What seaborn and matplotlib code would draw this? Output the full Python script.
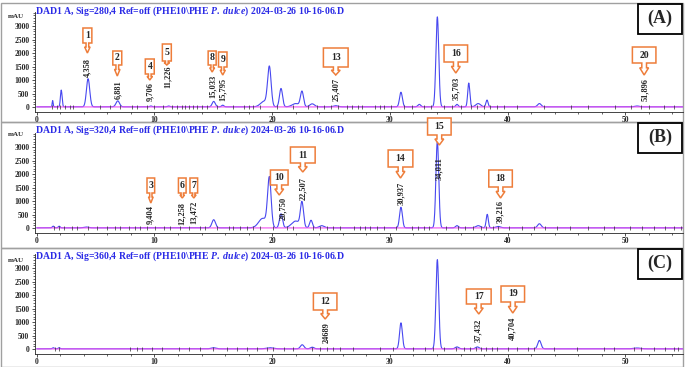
import numpy as np
import pandas as pd
import seaborn as sns
import matplotlib.pyplot as plt
from matplotlib.patches import Polygon, Rectangle
from matplotlib.transforms import blended_transform_factory

# ---- data ----
# peaks: retention time (min), height (mAU), width (sigma, min)
A_times = [1.35, 2.08, 4.36, 6.88, 9.7, 11.2, 15.03, 15.8, 19.3, 19.76, 20.75, 22.0, 22.53, 23.4, 25.4,
           30.94, 32.5, 34.03, 35.7, 36.7, 37.5, 38.25, 42.7, 51.0]
A_heights = [230, 620, 1040, 220, 30, 30, 200, 60, 200, 1450, 680, 120, 560, 110, 40,
             540, 90, 3330, 90, 880, 120, 250, 120, 30]
A_widths = [0.04, 0.07, 0.14, 0.15, 0.1, 0.1, 0.13, 0.1, 0.3, 0.15, 0.13, 0.3, 0.13, 0.2, 0.2,
            0.12, 0.12, 0.12, 0.1, 0.09, 0.2, 0.09, 0.15, 0.2]

B_times = [1.4, 1.9, 4.2, 15.03, 19.2, 19.76, 20.75, 22.0, 22.53, 23.3, 24.2, 30.94, 34.03, 35.7,
           37.5, 38.27, 39.2, 42.7]
B_heights = [60, 60, 30, 300, 350, 1800, 520, 250, 900, 280, 80, 760, 3200, 80,
             80, 500, 50, 150]
B_widths = [0.08, 0.08, 0.2, 0.15, 0.35, 0.15, 0.13, 0.35, 0.13, 0.12, 0.2, 0.12, 0.12, 0.12,
            0.2, 0.09, 0.2, 0.15]

C_times = [1.4, 1.9, 15.0, 19.8, 22.55, 23.4, 30.94, 34.03, 35.7, 37.43, 42.7, 51.0]
C_heights = [40, 40, 40, 40, 150, 60, 960, 3300, 70, 70, 310, 30]
C_widths = [0.08, 0.08, 0.2, 0.3, 0.15, 0.15, 0.12, 0.12, 0.15, 0.15, 0.14, 0.3]

# integration markers on the baseline (min)
A_marks = [1.3, 1.7, 2.0, 2.4, 2.8, 3.1, 5.4, 6.2, 7.1, 8.1, 8.5, 9.4, 10.0, 10.7, 11.5, 11.9, 12.3,
           12.6, 12.9, 13.3, 13.6, 14.0, 14.5, 15.3, 16.7, 17.6, 18.0, 18.4, 19.0, 20.4, 21.8, 23.0,
           23.8, 24.4, 25.0, 25.6, 26.35, 26.75, 27.25, 27.6, 28.7, 29.2, 29.5, 30.1, 31.2, 31.9,
           32.9, 33.5, 34.6, 35.3, 36.0, 36.9, 37.4, 38.0, 38.5, 39.1, 39.7, 40.8, 43.1, 45.4, 46.8,
           49.1, 50.5, 51.3, 52.0, 53.3, 54.1]
B_marks = [1.43, 1.85, 2.28, 2.99, 3.41, 4.32, 5.11, 5.96, 6.67, 7.09, 7.8, 8.37, 8.79, 9.36, 10.07,
           10.78, 11.34, 12.19, 12.9, 13.9, 14.3, 15.3, 16.3, 16.7, 17.3, 17.85, 18.4, 19.0, 20.1,
           21.3, 21.8, 23.5, 24.1, 24.65, 25.2, 25.8, 26.92, 27.5, 27.9, 28.3, 28.9, 29.5, 30.5,
           31.9, 32.4, 32.9, 33.3, 34.8, 35.8, 36.4, 37.1, 37.7, 38.2, 38.8, 39.2, 40.1, 41.2, 42.2,
           43.2, 44.2, 45.3, 46.8, 48.2, 49.0, 50.4, 51.4, 52.4, 53.4, 54.1, 54.7]
C_marks = [1.57, 1.85, 7.94, 8.51, 8.93, 9.78, 10.63, 12.05, 12.9, 13.9, 15.0, 16.2, 17.0, 17.85,
           18.7, 19.6, 20.1, 20.97, 21.8, 23.4, 24.1, 24.65, 25.2, 25.8, 26.9, 29.2, 30.3, 32.0,
           33.0, 33.7, 34.6, 35.6, 36.3, 36.8, 37.3, 37.7, 38.2, 38.7, 39.1, 40.0, 40.8, 41.7, 42.2,
           43.9, 45.9, 48.2, 49.0, 50.7, 51.3, 52.4, 53.4, 54.1, 54.5, 54.9]

# callouts: number, x centre (min), box top, box bottom, arrow tip (axes fraction), box width (min)
A_calls = [("1", 4.3, 0.84, 0.69, 0.59, 0.76), ("2", 6.84, 0.61, 0.47, 0.36, 0.76),
           ("4", 9.6, 0.53, 0.38, 0.32, 0.76), ("5", 11.05, 0.68, 0.51, 0.47, 0.76),
           ("8", 14.9, 0.61, 0.47, 0.40, 0.68), ("9", 15.8, 0.60, 0.45, 0.37, 0.72),
           ("13", 25.4, 0.64, 0.45, 0.37, 2.1), ("16", 35.6, 0.67, 0.50, 0.39, 2.0),
           ("20", 51.6, 0.65, 0.49, 0.37, 2.0)]
B_calls = [("3", 9.69, 0.55, 0.40, 0.30, 0.65), ("6", 12.36, 0.55, 0.40, 0.35, 0.65),
           ("7", 13.34, 0.55, 0.40, 0.35, 0.65), ("10", 20.6, 0.63, 0.48, 0.38, 1.5),
           ("11", 22.6, 0.86, 0.70, 0.61, 2.1), ("14", 30.9, 0.83, 0.66, 0.55, 2.1),
           ("15", 34.2, 1.15, 0.98, 0.88, 2.0), ("18", 39.4, 0.63, 0.46, 0.35, 2.0)]
C_calls = [("12", 24.5, 0.61, 0.44, 0.35, 2.0), ("17", 37.55, 0.65, 0.50, 0.40, 2.1),
           ("19", 40.44, 0.68, 0.52, 0.41, 2.0)]

# retention time labels: text, x (min), top of label (axes fraction)
A_rt = [("4,358", 4.32, 0.54), ("6,881", 6.9, 0.32), ("9,706", 9.6, 0.30), ("11,226", 11.1, 0.46),
        ("15,033", 14.95, 0.37), ("15,795", 15.8, 0.34), ("25,407", 25.45, 0.34),
        ("35,703", 35.65, 0.35), ("51,896", 51.65, 0.34)]
B_rt = [("9,404", 9.64, 0.28), ("12,258", 12.36, 0.31), ("13,472", 13.34, 0.32),
        ("20,750", 20.9, 0.36), ("22,507", 22.6, 0.56), ("30,937", 30.95, 0.51),
        ("34,011", 34.15, 0.76), ("39,216", 39.35, 0.33)]
C_rt = [("24689", 24.6, 0.32), ("37,432", 37.5, 0.35), ("40,704", 40.44, 0.37)]

titles = ["DAD1 A, Sig=280,4 Ref=off (PHE10\\PHE $\\mathit{P.\\ dulce}$) 2024-03-26 10-16-06.D",
          "DAD1 A, Sig=320,4 Ref=off (PHE10\\PHE $\\mathit{P.\\ dulce}$) 2024-03-26 10-16-06.D",
          "DAD1 A, Sig=360,4 Ref=off (PHE10\\PHE $\\mathit{P.\\ dulce}$) 2024-03-26 10-16-06.D"]
panel_names = ["(A)", "(B)", "(C)"]

sns.set_theme(style="ticks")
plt.rcParams['font.family'] = ['Liberation Serif', 'DejaVu Serif']
plt.rcParams['font.weight'] = 'bold'
plt.rcParams['mathtext.fontset'] = 'custom'
plt.rcParams['mathtext.it'] = 'Liberation Serif:italic:bold'
plt.rcParams['mathtext.rm'] = 'Liberation Serif:bold'

W, H = 685, 367
fig = plt.figure(figsize=(W / 100, H / 100), dpi=100)
fig.patch.set_facecolor('white')

t = np.linspace(0, 55, 4000)
orange = '#ee7d3a'

panels = [
    (A_times, A_heights, A_widths, A_marks, A_calls, A_rt, 112, 3, 122),
    (B_times, B_heights, B_widths, B_marks, B_calls, B_rt, 233, 122, 248),
    (C_times, C_heights, C_widths, C_marks, C_calls, C_rt, 354, 248, 367),
]

for i, (times, heights, widths, marks, calls, rts, ybot, ptop, pbot) in enumerate(panels):
    # grey frame round each panel (behind the plots)
    fig.patches.append(Rectangle((0.5 / W, 1 - pbot / H), 682.5 / W, (pbot - ptop) / H,
                                 transform=fig.transFigure, fill=False, ec='#a0a0a0', lw=1,
                                 zorder=-1))

    ax = fig.add_axes([35 / W, 1 - ybot / H, 648 / W, 100 / H])
    ax.set_facecolor('none')

    sig = np.full_like(t, 12.0)
    for t0, h, s in zip(times, heights, widths):
        sig += h * np.exp(-0.5 * ((t - t0) / s) ** 2)
    df = pd.DataFrame({"time": t, "mAU": sig, "base": np.full_like(t, 8.0)})

    sns.lineplot(data=df, x="time", y="mAU", ax=ax, color='#4848f0', lw=0.8, estimator=None)
    sns.lineplot(data=df, x="time", y="base", ax=ax, color='#f050f0', lw=0.8, estimator=None)
    ax.vlines(marks, -70, 90, color='#303030', lw=0.5)

    ax.set_xlim(-0.15, 54.9)
    ax.set_ylim(-180, 3520)
    ax.set_xlabel("")
    ax.set_ylabel("")
    ax.set_xticks([0, 10, 20, 30, 40, 50])
    ax.set_xticks(np.arange(0, 55, 2), minor=True)
    ax.set_yticks(np.arange(0, 3001, 500))
    ax.set_yticks(np.arange(0, 3501, 100), minor=True)
    ax.tick_params(axis='y', labelsize=5.5, length=2.5, width=0.6, pad=1.5, color='#333333')
    ax.tick_params(axis='x', labelsize=5.5, length=2, width=0.6, pad=0.6, color='#333333')
    ax.tick_params(axis='both', which='minor', length=1.5, width=0.5)
    for lab in ax.get_xticklabels() + ax.get_yticklabels():
        lab.set_fontweight('bold')
    sns.despine(ax=ax, top=True, right=True)
    ax.spines['left'].set_linewidth(0.6)
    ax.spines['bottom'].set_linewidth(0.6)

    # title and unit
    fig.text(35 / W, 1 - (ptop + 8) / H, titles[i], color='#2a2ae6', fontsize=7.0,
             fontweight='bold', va='center', ha='left')
    fig.text(16 / W, 1 - (ptop + 13) / H, "mAU", fontsize=5, fontweight='bold',
             va='center', ha='center')

    # panel label box
    fig.text(660 / W, 1 - (ptop + 15) / H, panel_names[i], fontsize=13, fontweight='bold',
             ha='center', va='center')
    fig.patches.append(Rectangle((638 / W, 1 - (ptop + 31) / H), 44 / W, 30 / H,
                                 transform=fig.transFigure, fill=False, ec='black', lw=1.3))

    trans = blended_transform_factory(ax.transData, ax.transAxes)
    for num, xc, top, bot, tip, w in calls:
        if w < 1:
            sw, hw = 0.3 * w, 0.6 * w
        else:
            sw, hw = 0.4, 0.75
        neck = bot - 0.4 * (bot - tip)
        verts = [(xc - w / 2, top), (xc + w / 2, top), (xc + w / 2, bot), (xc + sw / 2, bot),
                 (xc + sw / 2, neck), (xc + hw / 2, neck), (xc, tip), (xc - hw / 2, neck),
                 (xc - sw / 2, neck), (xc - sw / 2, bot), (xc - w / 2, bot)]
        ax.add_patch(Polygon(verts, closed=True, transform=trans, fc='white', ec=orange,
                             lw=1.1, clip_on=False, zorder=5))
        ax.text(xc, (top + bot) / 2, num, transform=trans, fontsize=7, fontweight='bold',
                ha='center', va='center', zorder=6, clip_on=False)

    for txt, xr, ytop in rts:
        ax.text(xr, ytop, txt, transform=trans, rotation=90, fontsize=6, fontweight='bold',
                ha='center', va='top', zorder=6)

fig.savefig("out.png", dpi=100)
